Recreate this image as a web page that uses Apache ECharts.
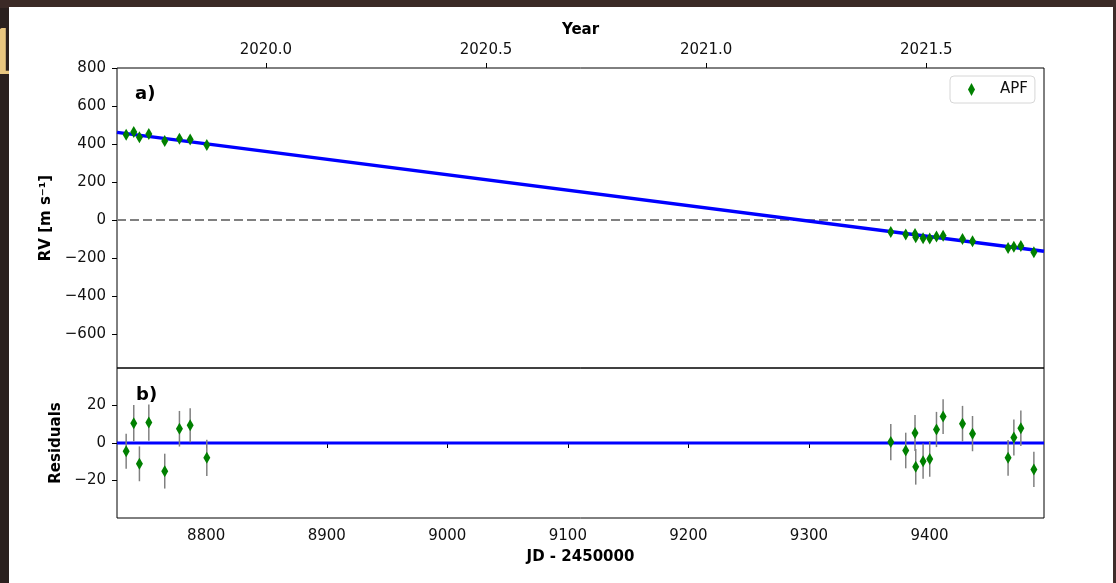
<!DOCTYPE html>
<html><head><meta charset="utf-8">
<script src="https://cdn.jsdelivr.net/npm/echarts@6/dist/echarts.min.js"></script>
<style>
html,body{margin:0;padding:0;width:1116px;height:583px;overflow:hidden;background:#2a201e;}
#topband{position:absolute;left:0;top:0;width:1116px;height:8px;background:#3b2a26;}
#rightband{position:absolute;right:0;top:0;width:4px;height:583px;background:#3e2d2a;}
#deco{position:absolute;left:-17px;top:22px;font:62px/62px "DejaVu Serif",serif;color:#e8c680;}
#paper{position:absolute;left:9px;top:7px;width:1104px;height:576px;background:#fff;}
#chart{position:absolute;left:0;top:0;width:1116px;height:583px;}
</style></head><body>
<div id="topband"></div>
<div id="rightband"></div>
<span id="deco">1</span>
<div id="paper"></div>
<div id="chart"></div>
<script>
// ---- data ----
const jd = [8733.6, 8739.9, 8744.6, 8752.4, 8765.6, 8777.8, 8786.7, 8800.5,
            9367.9, 9380.3, 9388.0, 9388.6, 9394.7, 9400.2, 9405.8, 9411.3,
            9427.4, 9435.7, 9465.2, 9470.0, 9475.8, 9486.6];
const rv = [448, 463, 435, 452, 415, 428, 423, 395,
            -64, -77, -74, -91, -96, -98, -87, -83,
            -100, -112, -148, -141, -137, -170];
const residuals = [-4.4, 10.6, -11.1, 10.9, -15.0, 7.6, 9.5, -7.9,
                   0.5, -4.0, 5.3, -12.7, -9.7, -8.5, 7.2, 14.1,
                   10.3, 5.0, -7.9, 2.9, 7.9, -14.1];
const errors = [9.3, 9.7, 9.3, 9.7, 9.3, 9.5, 9.1, 9.7,
                9.7, 9.5, 9.6, 9.5, 9.4, 9.5, 9.4, 9.3,
                9.5, 9.4, 9.5, 9.6, 9.5, 9.4];
const trendJD = [8726, 9495];
const trendRV = [461, -165];
const zeroRV = [0, 0];
const jdTicks = [8800, 8900, 9000, 9100, 9200, 9300, 9400];
const yearTicks = [2020.0, 2020.5, 2021.0, 2021.5];
const rvTicks = [-600, -400, -200, 0, 200, 400, 600, 800];
const resTicks = [-20, 0, 20];
const seriesName = 'APF';

// ---- axis ranges ----
const jdMin = 8726, jdMax = 9495;
const JD_YEAR2020 = 8849.5, DAYS_PER_YEAR = 365.25;
const toYear = d => 2020 + (d - JD_YEAR2020) / DAYS_PER_YEAR;

const FONT = '"DejaVu Sans", sans-serif';
const minus = v => String(v).replace('-', '\u2212');

const chart = echarts.init(document.getElementById('chart'), null, {renderer: 'canvas'});

const tickStyle = {show: true, length: 5, inside: false, lineStyle: {color: '#000', width: 1}};
const labelStyle = {color: '#111', fontSize: 15, fontFamily: FONT};

function errRender(params, api) {
  const x = api.value(0), y = api.value(1), e = api.value(2);
  const p1 = api.coord([x, y - e]);
  const p2 = api.coord([x, y + e]);
  return {type: 'line', shape: {x1: p1[0], y1: p1[1], x2: p2[0], y2: p2[1]},
          style: {stroke: '#808080', lineWidth: 1.5}};
}

const option = {
  animation: false,
  backgroundColor: 'transparent',
  grid: [
    {left: 117, top: 68, width: 927, height: 300, show: true, borderColor: '#000', borderWidth: 1, backgroundColor: 'transparent'},
    {left: 117, top: 368, width: 927, height: 150, show: true, borderColor: '#000', borderWidth: 1, backgroundColor: 'transparent'}
  ],
  xAxis: [
    {gridIndex: 0, type: 'value', min: jdMin, max: jdMax, position: 'bottom',
     axisLine: {show: false}, axisTick: {show: false}, axisLabel: {show: false}, splitLine: {show: false}},
    {gridIndex: 0, type: 'value', min: toYear(jdMin), max: toYear(jdMax), position: 'top',
     axisLine: {show: false}, splitLine: {show: false},
     axisTick: Object.assign({customValues: yearTicks}, tickStyle),
     axisLabel: Object.assign({customValues: yearTicks, margin: 10, formatter: v => v.toFixed(1)}, labelStyle),
     name: 'Year', nameLocation: 'middle', nameGap: 30,
     nameTextStyle: {fontFamily: FONT, fontSize: 15, fontWeight: 'bold', color: '#000'}},
    {gridIndex: 1, type: 'value', min: jdMin, max: jdMax, position: 'bottom',
     axisLine: {show: false}, splitLine: {show: false},
     axisTick: Object.assign({customValues: jdTicks}, tickStyle),
     axisLabel: Object.assign({customValues: jdTicks, margin: 11, formatter: v => String(v)}, labelStyle),
     name: 'JD - 2450000', nameLocation: 'middle', nameGap: 32,
     nameTextStyle: {fontFamily: FONT, fontSize: 15, fontWeight: 'bold', color: '#000', verticalAlign: 'top'}}
  ],
  yAxis: [
    {gridIndex: 0, type: 'value', min: -780, max: 800,
     axisLine: {show: false}, splitLine: {show: false},
     axisTick: Object.assign({customValues: rvTicks}, tickStyle),
     axisLabel: Object.assign({customValues: rvTicks, margin: 11, formatter: minus}, labelStyle),
     name: 'RV [m s\u207B\u00B9]', nameLocation: 'middle', nameGap: 62,
     nameTextStyle: {fontFamily: FONT, fontSize: 15, fontWeight: 'bold', color: '#000'}},
    {gridIndex: 1, type: 'value', min: -40, max: 40,
     axisLine: {show: false}, splitLine: {show: false},
     axisTick: Object.assign({customValues: resTicks}, tickStyle),
     axisLabel: Object.assign({customValues: resTicks, margin: 11, formatter: minus}, labelStyle),
     name: 'Residuals', nameLocation: 'middle', nameGap: 50,
     nameTextStyle: {fontFamily: FONT, fontSize: 15, fontWeight: 'bold', color: '#000'}}
  ],
  legend: {
    data: [{name: seriesName, icon: 'diamond'}],
    left: 950, top: 76,
    itemWidth: 7, itemHeight: 13,
    padding: [6, 7, 6, 18],
    borderColor: '#d6d6d6', borderWidth: 1, borderRadius: 4,
    backgroundColor: 'rgba(255,255,255,0.8)',
    textStyle: {fontFamily: FONT, fontSize: 15, color: '#111', padding: [0, 0, 0, 20]},
    selectedMode: false
  },
  graphic: [
    {type: 'text', x: 135, y: 94, style: {text: 'a)', font: 'bold 18px "DejaVu Sans"', fill: '#000', verticalAlign: 'middle'}},
    {type: 'text', x: 136, y: 395, style: {text: 'b)', font: 'bold 18px "DejaVu Sans"', fill: '#000', verticalAlign: 'middle'}}
  ],
  series: [
    {name: 'zero', type: 'line', xAxisIndex: 0, yAxisIndex: 0, symbol: 'none', z: 1,
     data: trendJD.map((d, i) => [d, zeroRV[i]]),
     lineStyle: {color: '#808080', width: 2, type: [9, 4]}},
    {name: 'model', type: 'line', xAxisIndex: 0, yAxisIndex: 0, symbol: 'none', z: 2,
     data: trendJD.map((d, i) => [d, trendRV[i]]),
     lineStyle: {color: '#0000ff', width: 3.5}},
    {name: 'rvErr', type: 'custom', xAxisIndex: 0, yAxisIndex: 0, z: 3, clip: true,
     renderItem: errRender, encode: {x: 0, y: 1},
     data: jd.map((d, i) => [d, rv[i], errors[i]])},
    {name: seriesName, type: 'scatter', xAxisIndex: 0, yAxisIndex: 0, z: 4,
     symbol: 'diamond', symbolSize: [7, 12], itemStyle: {color: '#008000', opacity: 1},
     data: jd.map((d, i) => [d, rv[i]])},
    {name: 'resZero', type: 'line', xAxisIndex: 2, yAxisIndex: 1, symbol: 'none', z: 2,
     data: trendJD.map((d, i) => [d, zeroRV[i]]),
     lineStyle: {color: '#0000ff', width: 3}},
    {name: 'resErr', type: 'custom', xAxisIndex: 2, yAxisIndex: 1, z: 3, clip: true,
     renderItem: errRender, encode: {x: 0, y: 1},
     data: jd.map((d, i) => [d, residuals[i], errors[i]])},
    {name: seriesName, type: 'scatter', xAxisIndex: 2, yAxisIndex: 1, z: 4,
     symbol: 'diamond', symbolSize: [7, 12], itemStyle: {color: '#008000', opacity: 1},
     data: jd.map((d, i) => [d, residuals[i]])}
  ]
};
chart.setOption(option);
</script>
</body></html>
